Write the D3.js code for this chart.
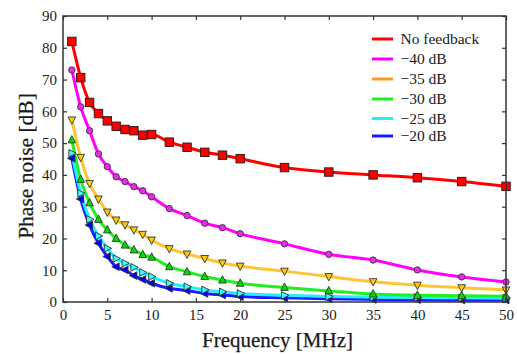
<!DOCTYPE html>
<html><head><meta charset="utf-8">
<script src="https://cdn.jsdelivr.net/npm/d3@7"></script>
<style>body{margin:0;background:#fff;} svg{display:block;}</style>
</head><body>
<svg id="c" width="517" height="354"></svg>
<script>
const freq = [1,2,3,4,5,6,7,8,9,10,12,14,16,18,20,25,30,35,40,45,50];
const noFeedback = [82,70.6,62.8,59.3,57,55.3,54.3,53.9,52.5,52.7,50.3,48.7,47.1,46.2,45.1,42.3,40.9,40,39.1,37.9,36.4];
const fb40 = [73,61.4,53.9,46.6,42.6,39.4,37.9,36.3,35,33.1,29.4,27.2,24.8,23.4,21.5,18.3,15,13.2,10.1,7.9,6.3];
const fb35 = [57.3,45.5,37.3,32.4,28.3,25.8,24.3,22.7,21.3,19.5,16.8,15.1,13.7,12.3,11.3,9.7,8,6.4,5.3,4.5,3.8];
const fb30 = [51,38.6,31.2,26,22.7,20,17.9,16.4,14.9,14.1,11.1,9.5,8,6.9,5.9,4.6,3.5,2.5,2.1,2,1.8];
const fb25 = [46.8,34.2,26,20.8,16.9,13.7,12.2,10.9,9.3,8,5.9,4.8,3.8,3.2,2.7,2.1,1.7,1.5,1.4,1.3,1.2];
const fb20 = [45.2,32.4,24.2,18.5,14.3,11.1,10.1,8.3,7.1,5.9,4.3,3.6,2.7,2.2,1.7,1.3,1.0,0.8,0.7,0.6,0.6];
const xTicks = [0,5,10,15,20,25,30,35,40,45,50];
const yTicks = [0,10,20,30,40,50,60,70,80,90];
const seriesNames = ["No feedback","\u221240 dB","\u221235 dB","\u221230 dB","\u221225 dB","\u221220 dB"];

const series = [
  {name:seriesNames[0], vals:noFeedback, line:"#ff0000", leg:"#ff0000", fill:"#ff0000", shape:"square"},
  {name:seriesNames[1], vals:fb40, line:"#ff00ff", leg:"#ff00ff", fill:"#e030e0", shape:"circle"},
  {name:seriesNames[2], vals:fb35, line:"#ffc433", leg:"#ff9922", fill:"#ffcc00", shape:"tridown"},
  {name:seriesNames[3], vals:fb30, line:"#22ee22", leg:"#22ee22", fill:"#00dd00", shape:"triup"},
  {name:seriesNames[4], vals:fb25, line:"#22eeff", leg:"#22eeff", fill:"#33ffff", shape:"triright"},
  {name:seriesNames[5], vals:fb20, line:"#1a1aff", leg:"#1a1aff", fill:"#0000ee", shape:"trileft"}
];

const FONT = "Liberation Serif";
const TXT = "#1a1a1a";
const svg = d3.select("#c");
const L=63, R=506, T=16, B=302;
const x = d3.scaleLinear().domain([0,50]).range([L,R]);
const y = d3.scaleLinear().domain([0,90]).range([B,T]);

const line = d3.line().x((d,i)=>x(freq[i])).y(d=>y(d)).curve(d3.curveMonotoneX);

const plot = svg.append("g");
series.slice().reverse().forEach(s=>{
  plot.append("path").attr("d", line(s.vals)).attr("fill","none")
    .attr("stroke", s.line).attr("stroke-width",3);
});

function marker(g, shape, cx, cy, fill){
  let p;
  const r=3.8;
  if(shape==="square"){
    g.append("rect").attr("x",cx-4.2).attr("y",cy-4.2).attr("width",8.4).attr("height",8.4)
      .attr("fill",fill).attr("stroke","#3a1a1a").attr("stroke-width",1);
    return;
  }
  if(shape==="circle"){
    g.append("circle").attr("cx",cx).attr("cy",cy).attr("r",3.2)
      .attr("fill",fill).attr("stroke","#4a2a4a").attr("stroke-width",0.9);
    return;
  }
  if(shape==="triup") p=[[cx,cy-r-0.6],[cx+r,cy+r-0.8],[cx-r,cy+r-0.8]];
  if(shape==="tridown") p=[[cx,cy+r+0.6],[cx+r,cy-r+0.8],[cx-r,cy-r+0.8]];
  if(shape==="triright") p=[[cx+r+0.6,cy],[cx-r+0.8,cy-r],[cx-r+0.8,cy+r]];
  if(shape==="trileft") p=[[cx-r-0.6,cy],[cx+r-0.8,cy-r],[cx+r-0.8,cy+r]];
  g.append("polygon").attr("points",p.map(q=>q.join(",")).join(" "))
    .attr("fill",fill).attr("stroke","#333").attr("stroke-width",0.9);
}
series.slice().reverse().forEach(s=>{
  const g = plot.append("g");
  s.vals.forEach((v,i)=>marker(g, s.shape, x(freq[i]), y(v), s.fill));
});

// frame & axes
const ax = svg.append("g");
ax.append("rect").attr("x",L).attr("y",T).attr("width",R-L).attr("height",B-T)
  .attr("fill","none").attr("stroke","#333").attr("stroke-width",1.5);

const gx = ax.append("g").attr("transform",`translate(0,${B})`)
  .call(d3.axisBottom(x).tickValues(xTicks).tickSizeInner(-4).tickSizeOuter(0).tickPadding(7));
const gy = ax.append("g").attr("transform",`translate(${L},0)`)
  .call(d3.axisLeft(y).tickValues(yTicks).tickSizeInner(-4).tickSizeOuter(0).tickPadding(6));
const gxt = ax.append("g").attr("transform",`translate(0,${T})`)
  .call(d3.axisTop(x).tickValues(xTicks).tickSizeInner(-4).tickSizeOuter(0).tickFormat(""));
const gyr = ax.append("g").attr("transform",`translate(${R},0)`)
  .call(d3.axisRight(y).tickValues(yTicks).tickSizeInner(-4).tickSizeOuter(0).tickFormat(""));
[gx,gy,gxt,gyr].forEach(g=>{
  g.attr("font-family", FONT);
  g.select(".domain").remove();
  g.selectAll(".tick line").attr("stroke","#333").attr("stroke-width",1.2);
  g.selectAll(".tick text").style("font-family",FONT).style("font-size","15px").attr("fill",TXT);
});
gx.selectAll(".tick text").attr("dy","0.71em");

svg.append("text").attr("x",277.5).attr("y",347).attr("text-anchor","middle")
  .style("font-family",FONT).style("font-size","21px").attr("fill",TXT)
  .attr("stroke",TXT).attr("stroke-width",0.25).text("Frequency [MHz]");
svg.append("text").attr("transform",`translate(33,${(T+B)/2+7}) rotate(-90)`).attr("text-anchor","middle")
  .style("font-family",FONT).style("font-size","21.5px").attr("fill",TXT)
  .attr("stroke",TXT).attr("stroke-width",0.25).text("Phase noise [dB]");

// legend
const lg = svg.append("g");
const legY = [39,59,79,99,118.5,136];
series.forEach((s,i)=>{
  lg.append("line").attr("x1",372).attr("x2",393).attr("y1",legY[i]).attr("y2",legY[i])
    .attr("stroke",s.leg).attr("stroke-width",3);
  lg.append("text").attr("x",400.5).attr("y",legY[i]+5).style("font-family",FONT)
    .style("font-size","15.5px").attr("fill",TXT).text(s.name);
});
</script>
</body></html>
